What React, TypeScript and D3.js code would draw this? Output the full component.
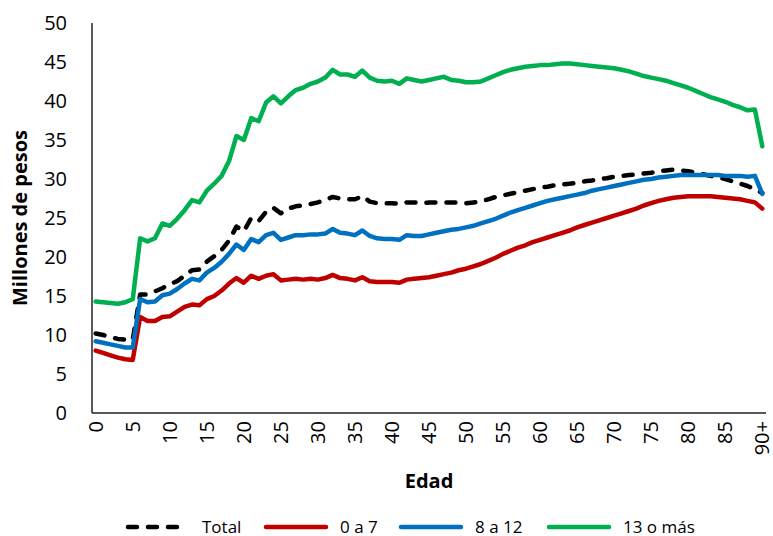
import React from "react";
import * as d3 from "d3";

const ageLabels: string[] = [
  "0","1","2","3","4","5","6","7","8","9","10","11","12","13","14","15","16","17","18","19",
  "20","21","22","23","24","25","26","27","28","29","30","31","32","33","34","35","36","37","38","39",
  "40","41","42","43","44","45","46","47","48","49","50","51","52","53","54","55","56","57","58","59",
  "60","61","62","63","64","65","66","67","68","69","70","71","72","73","74","75","76","77","78","79",
  "80","81","82","83","84","85","86","87","88","89","90+",
];

const shownTicks: string[] = ["0","5","10","15","20","25","30","35","40","45","50","55","60","65","70","75","80","85","90+"];
const yTicks: number[] = [0, 5, 10, 15, 20, 25, 30, 35, 40, 45, 50];

const total: number[] = [
  10.2,10.0,9.7,9.5,9.4,9.4,15.2,15.2,15.6,16.0,16.5,16.9,17.6,18.3,18.4,19.4,20.1,20.9,22.1,23.9,
  23.3,25.0,24.6,25.8,26.3,25.6,26.2,26.5,26.6,26.8,27.0,27.3,27.7,27.5,27.4,27.4,27.8,27.1,26.9,26.9,
  26.9,26.8,27.0,27.0,26.9,27.0,27.0,27.0,27.0,27.0,26.9,27.0,27.1,27.4,27.7,27.9,28.1,28.3,28.5,28.7,
  28.9,29.0,29.2,29.3,29.4,29.5,29.7,29.8,30.0,30.1,30.3,30.4,30.5,30.6,30.7,30.8,31.0,31.1,31.2,31.1,
  31.0,30.8,30.6,30.4,30.2,30.0,29.7,29.4,29.1,28.7,28.2,
];

const s0a7: number[] = [
  8.0,7.7,7.4,7.1,6.9,6.8,12.3,11.8,11.8,12.3,12.4,13.0,13.6,13.9,13.8,14.6,15.0,15.7,16.6,17.3,
  16.7,17.6,17.2,17.6,17.8,17.0,17.1,17.2,17.1,17.2,17.1,17.3,17.7,17.3,17.2,17.0,17.4,16.9,16.8,16.8,
  16.8,16.7,17.1,17.2,17.3,17.4,17.6,17.8,18.0,18.3,18.5,18.8,19.1,19.5,19.9,20.4,20.8,21.2,21.5,21.9,
  22.2,22.5,22.8,23.1,23.4,23.8,24.1,24.4,24.7,25.0,25.3,25.6,25.9,26.2,26.6,26.9,27.2,27.4,27.6,27.7,
  27.8,27.8,27.8,27.8,27.7,27.6,27.5,27.4,27.2,27.0,26.2,
];

const s8a12: number[] = [
  9.2,9.0,8.8,8.6,8.4,8.4,14.6,14.2,14.3,15.1,15.3,15.9,16.6,17.2,17.0,18.0,18.6,19.4,20.4,21.6,
  20.9,22.3,21.9,22.8,23.1,22.2,22.5,22.8,22.8,22.9,22.9,23.0,23.6,23.1,23.0,22.8,23.4,22.7,22.4,22.3,
  22.3,22.2,22.8,22.7,22.7,22.9,23.1,23.3,23.5,23.6,23.8,24.0,24.3,24.6,24.9,25.3,25.7,26.0,26.3,26.6,
  26.9,27.2,27.4,27.6,27.8,28.0,28.2,28.5,28.7,28.9,29.1,29.3,29.5,29.7,29.9,30.0,30.2,30.3,30.4,30.5,
  30.5,30.5,30.5,30.5,30.5,30.4,30.4,30.4,30.3,30.4,28.1,
];

const s13mas: number[] = [
  14.3,14.2,14.1,14.0,14.2,14.6,22.4,22.0,22.4,24.3,24.0,24.9,26.0,27.3,27.0,28.5,29.4,30.4,32.3,35.5,
  35.0,37.8,37.4,39.8,40.6,39.7,40.6,41.4,41.7,42.2,42.5,43.0,44.0,43.4,43.4,43.1,43.9,43.0,42.6,42.5,
  42.6,42.2,42.9,42.7,42.5,42.7,42.9,43.1,42.7,42.6,42.4,42.4,42.5,42.9,43.3,43.7,44.0,44.2,44.4,44.5,
  44.6,44.6,44.7,44.8,44.8,44.7,44.6,44.5,44.4,44.3,44.2,44.0,43.8,43.5,43.2,43.0,42.8,42.6,42.3,42.0,
  41.7,41.3,40.9,40.5,40.2,39.9,39.5,39.2,38.8,38.9,34.2,
];

const seriesNames: string[] = ["Total", "0 a 7", "8 a 12", "13 o más"];
const seriesColors: string[] = ["#000000", "#C00000", "#0070C0", "#00B050"];

const W = 773;
const H = 536;
const FONT = "'Open Sans', 'Segoe UI', sans-serif";

export default function App() {
  const left = 92, right = 766, top = 23, bottom = 413;
  const x = d3.scalePoint<string>().domain(ageLabels).range([left, right]).padding(0.5);
  const y = d3.scaleLinear().domain([0, 50]).range([bottom, top]);
  const allSeries = [total, s0a7, s8a12, s13mas];
  const line = d3
    .line<number>()
    .x((_, i) => x(ageLabels[i]) as number)
    .y((d) => y(d));

  const legendX = [126, 264, 399, 547];
  const legendY = 527;

  return (
    <svg width={W} height={H} style={{ position: "absolute", left: 0, top: 0, background: "#fff" }} fontFamily={FONT}>
      <rect x={0} y={0} width={W} height={H} fill="#fff" />
      {yTicks.map((t) => (
        <text key={t} x={67} y={y(t)} dy="0.35em" textAnchor="end" fontSize={20} fill="#000">
          {t}
        </text>
      ))}
      {shownTicks.map((t) => (
        <text
          key={t}
          transform={`translate(${x(t)},${421}) rotate(-90)`}
          dy="0.35em"
          textAnchor="end"
          fontSize={20}
          fill="#000"
        >
          {t}
        </text>
      ))}
      <line x1={left} x2={left} y1={top} y2={bottom} stroke="#222" strokeWidth={1.5} />
      <line x1={left} x2={right} y1={bottom} y2={bottom} stroke="#222" strokeWidth={1.5} />
      {allSeries.map((s, i) => (
        <path
          key={seriesNames[i]}
          d={line(s) || ""}
          fill="none"
          stroke={seriesColors[i]}
          strokeWidth={4.5}
          strokeLinejoin="round"
          strokeLinecap="round"
          strokeDasharray={i === 0 ? "9 11" : undefined}
        />
      ))}
      <text
        transform={`translate(20,${(top + bottom) / 2}) rotate(-90)`}
        dy="0.35em"
        textAnchor="middle"
        fontSize={20}
        fontWeight="bold"
        fill="#000"
      >
        Millones de pesos
      </text>
      <text x={(left + right) / 2} y={481} dy="0.35em" textAnchor="middle" fontSize={20} fontWeight="bold" fill="#000">
        Edad
      </text>
      {seriesNames.map((n, i) => (
        <g key={n}>
          <line
            x1={legendX[i] + 2}
            x2={legendX[i] + 62}
            y1={legendY}
            y2={legendY}
            stroke={seriesColors[i]}
            strokeWidth={4.5}
            strokeLinecap="round"
            strokeDasharray={i === 0 ? "9 11" : undefined}
          />
          <text x={legendX[i] + 76} y={legendY} dy="0.35em" fontSize={17} fill="#000">
            {n}
          </text>
        </g>
      ))}
    </svg>
  );
}
